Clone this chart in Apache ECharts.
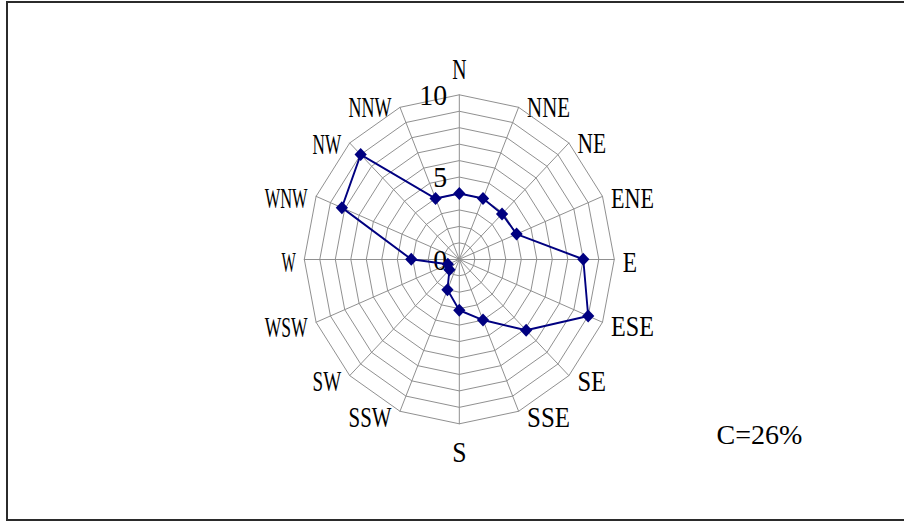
<!DOCTYPE html>
<html>
<head>
<meta charset="utf-8">
<script src="https://cdn.jsdelivr.net/npm/echarts@6/dist/echarts.min.js"></script>
<style>
  html, body { margin: 0; padding: 0; background: #fff; width: 904px; height: 521px; overflow: hidden; }
  #frame { position: absolute; left: 6px; top: 1px; width: 1000px; height: 516px; border: 2px solid #2b2b2b; }
  #chart { position: absolute; left: 0; top: 0; width: 960px; height: 521px; transform: scaleX(0.9422); transform-origin: 0 0; }
</style>
</head>
<body>
<div id="frame"></div>
<div id="chart"></div>
<script>
// Wind directions, clockwise from north
const directions = ['N', 'NNE', 'NE', 'ENE', 'E', 'ESE', 'SE', 'SSE', 'S', 'SSW', 'SW', 'WSW', 'W', 'WNW', 'NW', 'NNW'];
// Wind frequency (%) per direction
const frequencies = [4.0, 4.0, 3.9, 4.0, 8.0, 9.0, 6.1, 4.0, 3.1, 2.0, 0.9, 0.8, 3.1, 8.2, 9.0, 4.0];
// Radial scale
const radialMin = 0;
const radialMax = 10;
const radialSplits = 10;
const radialTickLabels = [0, 5, 10];
// Calm note
const calmNote = 'C=26%';

const SX = 0.9422;                 // horizontal compression of the original picture
const CX = 459.3 / SX, CY = 259.3; // radar centre (chart coordinates)
const R = 164.5;                   // radar radius
const serif = '"Liberation Serif", "Times New Roman", serif';
const NAME_FS = 29.5;
const CHAR_W = 14.3;               // on-screen width per character of the narrow original font
const NAME_GAP = 8.5;              // on-screen horizontal gap between ring and label

// ECharts radar runs counter-clockwise; reorder so directions run clockwise
const order = [0];
for (let i = directions.length - 1; i >= 1; i--) order.push(i);

// Direction names as narrow serif text placed round the outer ring
const ctx = document.createElement('canvas').getContext('2d');
ctx.font = NAME_FS + 'px "Liberation Serif"';
const nameTexts = directions.map((d, i) => {
  const th = i * 2 * Math.PI / directions.length;
  const s = Math.sin(th), c = Math.cos(th);
  const vx = CX + R * s, vy = CY - R * c;
  let x = vx, y = vy + 3 - 3.5 * c, align = 'center';
  if (Math.abs(s) < 1e-6) {
    y = c > 0 ? vy - 26 : vy + 28.5;
  } else if (s > 0) {
    x = vx + NAME_GAP / SX; align = 'left';
  } else {
    x = vx - NAME_GAP / SX; align = 'right';
  }
  const w = ctx.measureText(d).width;
  return {
    type: 'text', x: x, y: y, silent: true,
    scaleX: (CHAR_W * d.length) / (w * SX),
    style: { text: d, fontFamily: serif, fontSize: NAME_FS, fill: '#000', align: align, verticalAlign: 'middle' }
  };
});

const chart = echarts.init(document.getElementById('chart'), null, { renderer: 'svg' });
chart.setOption({
  backgroundColor: 'transparent',
  animation: false,
  radar: {
    center: [CX, CY],
    radius: R,
    startAngle: 90,
    shape: 'polygon',
    splitNumber: radialSplits,
    axisName: { show: false },
    splitLine: { lineStyle: { color: '#8c8c8c', width: 1 } },
    splitArea: { show: false },
    axisLine: { lineStyle: { color: '#8c8c8c', width: 1 } },
    axisTick: { show: false },
    axisLabel: {
      show: false, color: '#000', fontFamily: serif, fontSize: 29.5, margin: 13,
      formatter: v => (radialTickLabels.indexOf(Math.round(v)) >= 0 ? String(Math.round(v)) : '')
    },
    indicator: order.map(i => ({
      name: directions[i], min: radialMin, max: radialMax,
      axisLabel: { show: i === 0 }
    }))
  },
  series: [{
    type: 'radar',
    symbol: 'diamond',
    symbolSize: 13,
    lineStyle: { color: '#000080', width: 2 },
    itemStyle: { color: '#000080' },
    data: [{ value: order.map(i => frequencies[i]) }]
  }],
  graphic: nameTexts.concat([{
    type: 'text',
    x: 716.5 / SX, y: 434.5,
    scaleX: 1 / SX, silent: true,
    style: { text: calmNote, fontFamily: serif, fontSize: 28, fill: '#000', align: 'left', verticalAlign: 'middle' }
  }])
});
</script>
</body>
</html>
